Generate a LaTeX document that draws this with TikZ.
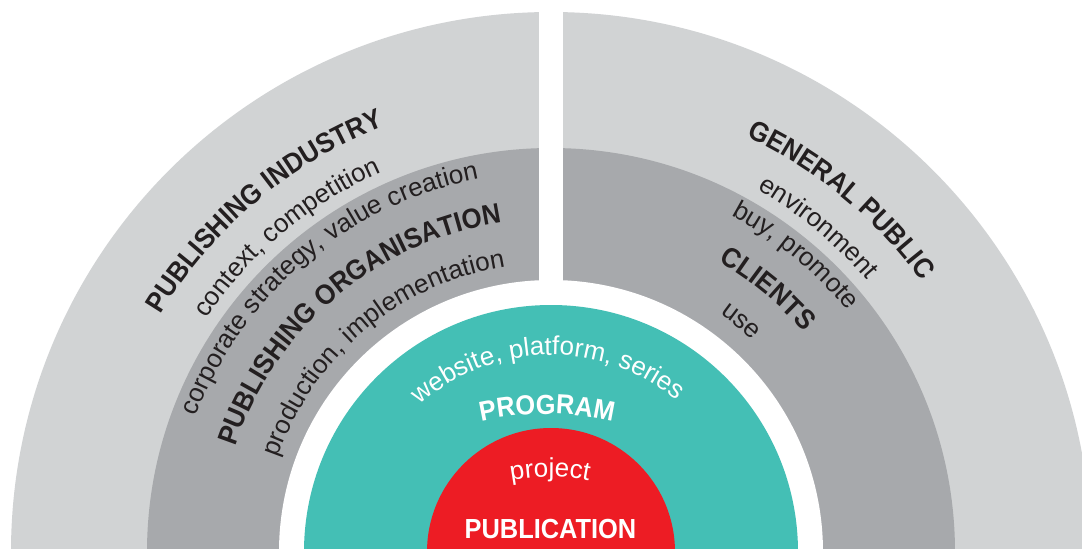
\documentclass[tikz,border=0pt]{standalone}
\usepackage{fontspec}
\setmainfont{Liberation Sans}[BoldFeatures={FakeStretch=0.92}]
\usetikzlibrary{calc,decorations.text}

\definecolor{outergrey}{HTML}{D1D3D4}
\definecolor{innergrey}{HTML}{A7A9AC}
\definecolor{progteal}{HTML}{44BFB5}
\definecolor{pubred}{HTML}{ED1C24}
\definecolor{labelink}{HTML}{231F20}

\newcommand{\ringsize}{\fontsize{13}{15}\selectfont}
\newcommand{\ringbold}{\fontsize{14}{16}\selectfont\bfseries}

\begin{document}
\begin{tikzpicture}[
    x=0.5pt, y=0.5pt,
    darklabel/.style={
        decorate,
        decoration={text along path, text align=center,
            text color=labelink, text={#1}}
    },
    lightlabel/.style={
        decorate,
        decoration={text along path, text align=center,
            text color=white, text={#1}}
    }
]
\useasboundingbox (0,0) rectangle (1082,548);
\clip (0,0) rectangle (1082,548);
\coordinate (hub) at (551,-4);      % centre of all rings
\coordinate (proghub) at (547,-166); % flatter arc for PROGRAM
\coordinate (projhub) at (550,-129); % flatter arc for project

% --- Rings ---
\fill[outergrey] (hub) circle[radius=540];
\fill[innergrey] (hub) circle[radius=404];
\fill[white] (539,250) rectangle (563,548); % vertical gap
\fill[white] (hub) circle[radius=272];
\fill[progteal] (hub) circle[radius=247];
\fill[pubred] (hub) circle[radius=124];

% --- Left half ---
\path[darklabel={|\ringbold|PUBLISHING INDUSTRY}]
    ($(hub)+(200:457)$) arc[start angle=200, end angle=60, radius=457];
\path[darklabel={|\ringsize|context, competition}]
    ($(hub)+(200:416)$) arc[start angle=200, end angle=60, radius=416];
\path[darklabel={|\ringsize|corporate strategy, value creation}]
    ($(hub)+(200:380)$) arc[start angle=200, end angle=60, radius=380];
\path[darklabel={|\ringbold|PUBLISHING ORGANISATION}]
    ($(hub)+(200:333)$) arc[start angle=200, end angle=60, radius=333];
\path[darklabel={|\ringsize|production, implementation}]
    ($(hub)+(200:289)$) arc[start angle=200, end angle=60, radius=289];

% --- Right half ---
\path[darklabel={|\ringbold|GENERAL PUBLIC}]
    ($(hub)+(120.5:459)$) arc[start angle=120.5, end angle=-19.5, radius=459];
\path[darklabel={|\ringsize|environment}]
    ($(hub)+(120.5:417)$) arc[start angle=120.5, end angle=-19.5, radius=417];
\path[darklabel={|\ringsize|buy, promote}]
    ($(hub)+(120.5:382)$) arc[start angle=120.5, end angle=-19.5, radius=382];
\path[darklabel={|\ringbold|CLIENTS}]
    ($(hub)+(120.5:335)$) arc[start angle=120.5, end angle=-19.5, radius=335];
\path[darklabel={|\ringsize|use}]
    ($(hub)+(120.5:292)$) arc[start angle=120.5, end angle=-19.5, radius=292];

% --- Centre ---
\path[lightlabel={|\ringsize|website, platform, series}]
    ($(hub)+(161:197)$) arc[start angle=161, end angle=21, radius=197];
\path[lightlabel={|\fontsize{13.8}{16}\selectfont\bfseries|PROGRAM}]
    ($(proghub)+(120:300)$) arc[start angle=120, end angle=60, radius=300];
\path[lightlabel={|\ringsize|project}]
    ($(projhub)+(120:200)$) arc[start angle=120, end angle=60, radius=200];
\node[anchor=base, text=white, font=\fontsize{13.8}{16}\selectfont\bfseries,
    inner sep=0pt] (publication) at (550.5,10) {PUBLICATION};

\end{tikzpicture}
\end{document}
